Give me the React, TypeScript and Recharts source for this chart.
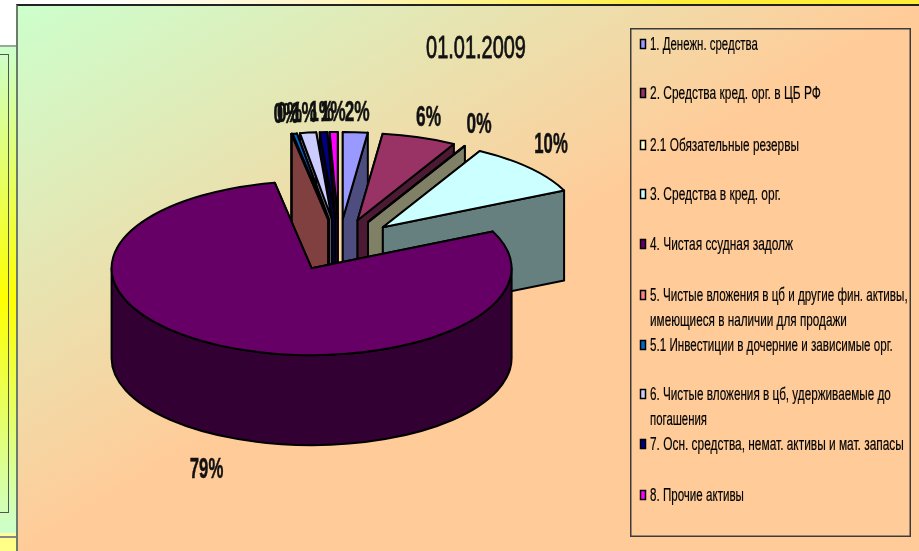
import React from 'react';
import { PieChart, Pie, Legend } from 'recharts';

const names = [
  '1. Денежн. средства',
  '2. Средства кред. орг. в ЦБ РФ',
  '2.1 Обязательные резервы',
  '3. Средства в кред. орг.',
  '4. Чистая ссудная задолж',
  '5. Чистые вложения в цб и другие фин. активы,|имеющиеся в наличии для продажи',
  '5.1 Инвестиции в дочерние и зависимые орг.',
  '6. Чистые вложения в цб, удерживаемые до|погашения',
  '7. Осн. средства, немат. активы и мат. запасы',
  '8. Прочие активы',
];
const shares = [2, 6, 0.05, 10, 79, 0.05, 0.35, 1.3, 0.6, 0.65];
const colors = ['#9999FF', '#993366', '#FFFFCC', '#CCFFFF', '#660066', '#FF8080', '#0066CC', '#CCCCFF', '#000080', '#FF00FF'];
const sideColors = ['#4D4D80', '#4D1A33', '#808066', '#668080', '#330033', '#804040', '#003366', '#666680', '#000040', '#800080'];
const title = '01.01.2009';

const table = names.map((name, i) => ({ name, value: shares[i], fill: colors[i], side: sideColors[i] }));

const paintOrder = [0, 1, 2, 3, 9, 8, 7, 6, 5, 4];
const legendRowY = [44, 93, 145, 194, 244, 295, 345, 394, 444, 495];
const legendWidths = [[108], [171], [149], [131], [143], [258, 197], [243], [241, 57], [254], [94]];

const RX = 200, RY = 87, DEPTH = 90, EXPLODE = 0.3, CX = 339, CY = 245;
const rad = Math.PI / 180;

let ctx: CanvasRenderingContext2D | null = null;
function squeeze(text: string, font: string, target: number) {
  if (!ctx) ctx = document.createElement('canvas').getContext('2d');
  ctx!.font = font;
  return target / ctx!.measureText(text).width;
}

function drawSlice(p: any) {
  const { startAngle, endAngle, midAngle, fill, payload } = p;
  const mid = midAngle ?? (startAngle + endAngle) / 2;
  const ax = CX + EXPLODE * RX * Math.cos(mid * rad);
  const ay = CY - EXPLODE * RY * Math.sin(mid * rad);
  const P = (a: number) => [ax + RX * Math.cos(a * rad), ay - RY * Math.sin(a * rad)];
  const s = P(startAngle), e = P(endAngle);
  const large = Math.abs(startAngle - endAngle) > 180 ? 1 : 0;
  const side = payload?.side ?? p.side;
  const top = `M${ax},${ay}L${s[0]},${s[1]}A${RX},${RY} 0 ${large} 1 ${e[0]},${e[1]}Z`;
  const face = (q: number[]) => `M${ax},${ay}L${q[0]},${q[1]}L${q[0]},${q[1] + DEPTH}L${ax},${ay + DEPTH}Z`;
  const a1 = Math.min(startAngle, 0), a2 = Math.max(endAngle, -180);
  let wall: string | null = null;
  if (a1 > a2) {
    const w1 = P(a1), w2 = P(a2);
    wall = `M${w1[0]},${w1[1]}A${RX},${RY} 0 0 1 ${w2[0]},${w2[1]}L${w2[0]},${w2[1] + DEPTH}A${RX},${RY} 0 0 0 ${w1[0]},${w1[1] + DEPTH}Z`;
  }
  const st = { stroke: '#000', strokeWidth: 2, strokeLinejoin: 'round' as const };
  return (
    <g>
      <path d={face(s)} fill={side} {...st} />
      <path d={face(e)} fill={side} {...st} />
      {wall && <path d={wall} fill={side} {...st} />}
      <path d={top} fill={fill} {...st} />
    </g>
  );
}

function drawLabel(p: any) {
  const { midAngle, percent } = p;
  const sin = Math.sin(midAngle * rad);
  const x = CX + 1.45 * RX * Math.cos(midAngle * rad);
  const y = CY - 1.15 * RY * sin + (sin < 0 ? 133 : -35);
  const t = `${Math.round(percent * 100)}%`;
  const font = "bold 30px 'Liberation Sans'";
  const f = squeeze(t, font, t.length * 8.5 + 8);
  return (
    <text transform={`translate(${x},${y + 11}) scale(${f},1)`} textAnchor="middle" fontFamily="'Liberation Sans'"
      fontWeight="bold" fontSize={30} fill="#111" stroke="#111" strokeWidth={0.5}>{t}</text>
  );
}

function LegendBox() {
  const font = "18.5px 'Liberation Sans'";
  return (
    <svg width={281} height={509} style={{ display: 'block' }}>
      <rect x={0.75} y={0.75} width={279.5} height={507.5} fill="none" stroke="#3c3c3c" strokeWidth={1.5} />
      {names.map((n, i) => {
        const y = legendRowY[i] - 28;
        return (
          <g key={n}>
            <rect x={10.5} y={y - 4.5} width={5} height={9} fill={colors[i]} stroke="#000" strokeWidth={1.5} />
            {n.split('|').map((line, j) => (
              <text key={j} transform={`translate(20,${y + 6 + j * 25}) scale(${squeeze(line, font, legendWidths[i][j])},1)`}
                fontFamily="'Liberation Sans'" fontSize={18.5} fill="#000" stroke="#000" strokeWidth={0.2}>{line}</text>
            ))}
          </g>
        );
      })}
    </svg>
  );
}

const frame = (style: React.CSSProperties) => <div style={{ position: 'absolute', ...style }} />;

export default function App() {
  const titleFont = "31px 'Liberation Sans'";
  return (
    <div style={{ position: 'absolute', left: 0, top: 0, width: 919, height: 551, overflow: 'hidden', background: '#fff' }}>
      {frame({ left: 0, top: 0, width: 919, height: 5, background: 'linear-gradient(to right,#ffffff 10%,#fff6c8 35%,#ffee33 75%,#ffee33)' })}
      {frame({ left: 0, top: 45, width: 16, height: 488, background: 'linear-gradient(to bottom,#ccffcc,#ffff00 52%,#ccffcc)', borderTop: '2px solid #99a999', boxSizing: 'border-box' })}
      {frame({ left: 0, top: 54, width: 9, height: 459, borderTop: '1px solid #555', borderBottom: '1.5px solid #555', borderRight: '1px solid #555', boxSizing: 'border-box' })}
      {frame({ left: 0, top: 533, width: 16, height: 18, background: 'linear-gradient(to bottom,#ffff99 3px,#888 3px,#888 5px,#ffff88 5px)' })}
      {frame({ left: 16, top: 4, width: 903, height: 547, background: 'linear-gradient(to bottom right,#ccffcc 0%,#ffcc99 50%,#ffcc99 100%)', borderTop: '2px solid #222', borderLeft: '2px solid #6c7c6c', boxSizing: 'border-box' })}
      <div style={{ position: 'absolute', left: 0, top: 0, filter: 'blur(0.45px)' }}>
        <PieChart width={919} height={551} margin={{ top: 0, right: 0, bottom: 0, left: 0 }}>
          {paintOrder.map((idx) => (
            <Pie key={idx} data={table} dataKey="value" nameKey="name" cx={CX} cy={CY} outerRadius={RX} innerRadius={0}
              startAngle={90} endAngle={-270} isAnimationActive={false} labelLine={false} stroke="none"
              shape={(p: any) => (p.index === idx ? drawSlice(p) : <g />)}
              label={(p: any) => (p.index === idx ? drawLabel(p) : <g />)} />
          ))}
          <text transform={`translate(476,58) scale(${squeeze(title, titleFont, 100)},1)`} textAnchor="middle"
            fontFamily="'Liberation Sans'" fontSize={31} fill="#111" stroke="#111" strokeWidth={0.8}>{title}</text>
          <Legend content={() => <LegendBox />} wrapperStyle={{ position: 'absolute', left: 630, top: 28, width: 281, height: 509, bottom: 'auto' }} />
        </PieChart>
      </div>
    </div>
  );
}
